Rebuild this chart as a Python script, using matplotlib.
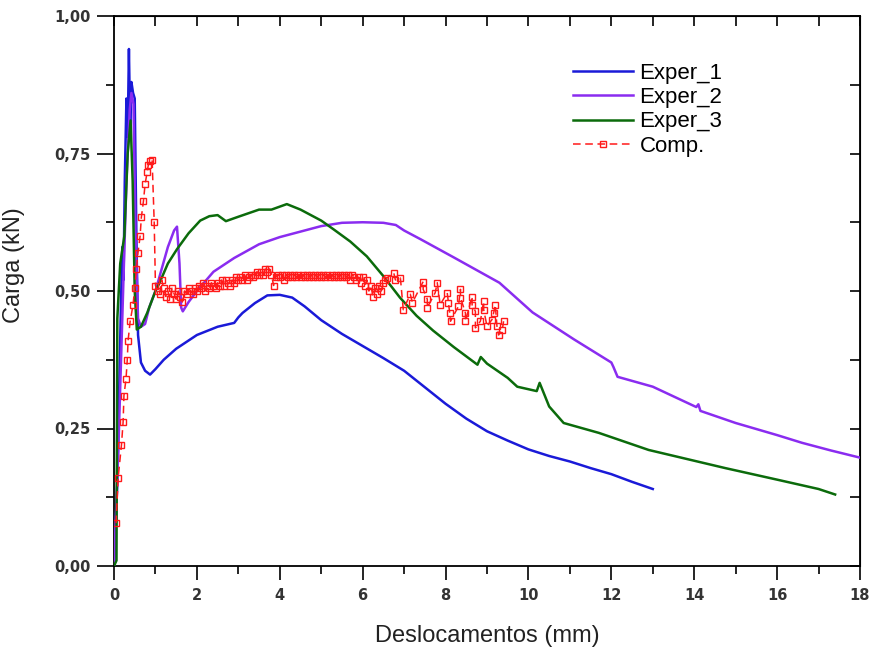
import matplotlib
matplotlib.use("Agg")
import matplotlib.pyplot as plt
from matplotlib.ticker import MultipleLocator, FuncFormatter

# ---------------- data ----------------
exp1_x = [0.0, 0.08, 0.12, 0.16, 0.20, 0.23, 0.26, 0.30, 0.33, 0.36, 0.39, 0.42, 0.46, 0.50,
          0.54, 0.58, 0.65, 0.75, 0.87, 1.0, 1.2, 1.5, 2.0, 2.5, 2.9, 3.0, 3.1, 3.4, 3.7, 4.0,
          4.3, 4.6, 5.0, 5.5, 6.0, 6.5, 7.0, 7.5, 8.0, 8.5, 9.0, 9.5, 10.0, 10.5, 11.0, 11.5,
          12.0, 12.5, 13.0]
exp1_y = [0.0, 0.15, 0.30, 0.45, 0.58, 0.52, 0.70, 0.85, 0.78, 0.94, 0.80, 0.88, 0.86, 0.85,
          0.60, 0.42, 0.37, 0.355, 0.348, 0.358, 0.375, 0.395, 0.42, 0.435, 0.442, 0.452, 0.46,
          0.478, 0.492, 0.493, 0.488, 0.472, 0.447, 0.422, 0.400, 0.378, 0.355, 0.325, 0.295,
          0.268, 0.245, 0.228, 0.212, 0.200, 0.190, 0.178, 0.167, 0.153, 0.140]

exp2_x = [0.0, 0.10, 0.20, 0.30, 0.38, 0.42, 0.47, 0.52, 0.58, 0.65, 0.75, 0.85, 1.0, 1.15,
          1.30, 1.45, 1.52, 1.58, 1.62, 1.66, 1.8, 2.0, 2.4, 2.9, 3.5, 4.0, 4.5, 5.0, 5.5, 6.0,
          6.5, 6.8, 7.0, 7.4, 8.2, 9.3, 10.1, 11.1, 12.0, 12.05, 12.15, 13.0, 14.05, 14.1,
          14.15, 15.0, 16.0, 16.6, 17.3, 18.0]
exp2_y = [0.0, 0.20, 0.45, 0.70, 0.83, 0.86, 0.84, 0.60, 0.45, 0.435, 0.44, 0.47, 0.50, 0.54,
          0.58, 0.61, 0.617, 0.55, 0.47, 0.463, 0.48, 0.50, 0.535, 0.56, 0.585, 0.598, 0.608,
          0.618, 0.624, 0.625, 0.624, 0.620, 0.610, 0.594, 0.561, 0.515, 0.461, 0.412, 0.370,
          0.362, 0.344, 0.326, 0.289, 0.294, 0.282, 0.260, 0.238, 0.224, 0.210, 0.197]

exp3_x = [0.0, 0.06, 0.08, 0.15, 0.25, 0.33, 0.40, 0.45, 0.50, 0.55, 0.65, 0.8, 1.0, 1.1,
          1.3, 1.52, 1.8, 2.08, 2.3, 2.5, 2.7, 3.0, 3.5, 3.8, 4.17, 4.5, 5.0, 5.3, 5.7, 6.1,
          6.5, 6.9, 7.3, 7.7, 8.2, 8.77, 8.85, 9.0, 9.5, 9.73, 10.2, 10.27, 10.5, 10.85, 11.7,
          12.9, 14.75, 16.0, 17.0, 17.4]
exp3_y = [0.0, 0.01, 0.45, 0.55, 0.60, 0.75, 0.81, 0.70, 0.50, 0.43, 0.435, 0.46, 0.50,
          0.515, 0.55, 0.576, 0.605, 0.628, 0.636, 0.638, 0.627, 0.635, 0.648, 0.648, 0.658,
          0.648, 0.628, 0.612, 0.590, 0.563, 0.527, 0.488, 0.455, 0.428, 0.398, 0.366, 0.380,
          0.368, 0.342, 0.326, 0.318, 0.333, 0.290, 0.260, 0.242, 0.211, 0.178, 0.157, 0.140,
          0.130]

# Comp.: initial rise, plateau, and scattered tail
comp_rise_x = [0.05, 0.10, 0.18, 0.22, 0.24, 0.29, 0.32, 0.34, 0.39, 0.46, 0.50, 0.54, 0.58,
               0.63, 0.66, 0.71, 0.75, 0.80, 0.83, 0.87, 0.92, 0.97]
comp_rise_y = [0.078, 0.16, 0.22, 0.262, 0.31, 0.34, 0.375, 0.41, 0.445, 0.475, 0.506, 0.54,
               0.57, 0.60, 0.634, 0.663, 0.694, 0.716, 0.73, 0.736, 0.738, 0.625]
comp_plat_x = [1.00, 1.05, 1.10, 1.15, 1.20, 1.25, 1.30, 1.35, 1.40, 1.45, 1.50, 1.55, 1.60,
               1.65, 1.70, 1.75, 1.80, 1.85, 1.90, 1.95, 2.00, 2.05, 2.10, 2.15, 2.20, 2.25,
               2.30, 2.35, 2.40, 2.45, 2.50, 2.55, 2.60, 2.65, 2.70, 2.75, 2.80, 2.85, 2.90,
               2.95, 3.00, 3.05, 3.10, 3.15, 3.20, 3.25, 3.30, 3.35, 3.40, 3.45, 3.50, 3.55,
               3.60, 3.65, 3.70, 3.75, 3.80, 3.85, 3.90, 3.95, 4.00, 4.05, 4.10, 4.15, 4.20,
               4.25, 4.30, 4.35, 4.40, 4.45, 4.50, 4.55, 4.60, 4.65, 4.70, 4.75, 4.80, 4.85,
               4.90, 4.95, 5.00, 5.05, 5.10, 5.15, 5.20, 5.25, 5.30, 5.35, 5.40, 5.45, 5.50,
               5.55, 5.60, 5.65, 5.70, 5.75, 5.80, 5.85, 5.90, 5.95, 6.00, 6.05, 6.10, 6.15,
               6.20, 6.25, 6.30, 6.35, 6.40, 6.45, 6.50, 6.55]
comp_plat_y = [0.51, 0.50, 0.495, 0.52, 0.505, 0.49, 0.50, 0.485, 0.505, 0.495, 0.485, 0.50,
               0.49, 0.48, 0.50, 0.495, 0.505, 0.50, 0.495, 0.505, 0.50, 0.51, 0.505, 0.515,
               0.50, 0.51, 0.505, 0.515, 0.51, 0.505, 0.515, 0.51, 0.52, 0.51, 0.52, 0.515,
               0.51, 0.52, 0.515, 0.525, 0.52, 0.525, 0.52, 0.53, 0.52, 0.525, 0.53, 0.525,
               0.53, 0.535, 0.53, 0.535, 0.53, 0.54, 0.535, 0.54, 0.53, 0.51, 0.525, 0.53,
               0.525, 0.53, 0.52, 0.53, 0.525, 0.53, 0.525, 0.53, 0.525, 0.53, 0.525, 0.53,
               0.525, 0.53, 0.525, 0.53, 0.525, 0.53, 0.525, 0.53, 0.525, 0.53, 0.525, 0.53,
               0.525, 0.53, 0.525, 0.53, 0.525, 0.53, 0.525, 0.53, 0.525, 0.53, 0.52, 0.53,
               0.525, 0.52, 0.525, 0.515, 0.525, 0.51, 0.52, 0.50, 0.51, 0.49, 0.505, 0.495,
               0.51, 0.50, 0.515, 0.52]
comp_tail_x = [6.59, 6.75, 6.79, 6.91, 6.98, 7.15, 7.2, 7.46, 7.46, 7.56, 7.56, 7.75, 7.8,
               7.87, 8.04, 8.07, 8.1, 8.12, 8.31, 8.36, 8.36, 8.48, 8.48, 8.64, 8.64, 8.72,
               8.72, 8.84, 8.92, 8.92, 9.0, 9.12, 9.16, 9.2, 9.24, 9.28, 9.37, 9.4]
comp_tail_y = [0.524, 0.533, 0.52, 0.524, 0.466, 0.494, 0.479, 0.517, 0.503, 0.485, 0.47,
               0.497, 0.515, 0.475, 0.497, 0.479, 0.46, 0.445, 0.472, 0.503, 0.488, 0.46,
               0.445, 0.49, 0.475, 0.463, 0.433, 0.445, 0.481, 0.466, 0.436, 0.448, 0.46,
               0.475, 0.436, 0.42, 0.43, 0.445]
comp_x = comp_rise_x + comp_plat_x + comp_tail_x
comp_y = comp_rise_y + comp_plat_y + comp_tail_y

labels = ["Exper_1", "Exper_2", "Exper_3", "Comp."]
colors = ["#1a1ad8", "#8a2cf0", "#0b6b0b", "#ff1a1a"]
x_ticks = [0, 2, 4, 6, 8, 10, 12, 14, 16, 18]
y_ticks = [0.0, 0.25, 0.5, 0.75, 1.0]

# ---------------- figure ----------------
plt.rcParams["font.family"] = ["DejaVu Sans"]
fig = plt.figure(figsize=(8.73, 6.55), dpi=100)
ax = fig.add_axes([114 / 873, (655 - 566) / 655, 746 / 873, 550 / 655])

ax.plot(exp1_x, exp1_y, color=colors[0], lw=1.8, label=labels[0], zorder=3)
ax.plot(exp2_x, exp2_y, color=colors[1], lw=1.8, label=labels[1], zorder=3)
ax.plot(exp3_x, exp3_y, color=colors[2], lw=1.8, label=labels[2], zorder=3)
ax.plot(comp_x, comp_y, color=colors[3], lw=1.1, ls=(0, (5, 3)), marker="s",
        markersize=5, markerfacecolor="none", markeredgecolor=colors[3],
        markeredgewidth=1.0, label=labels[3], zorder=4)

ax.set_xlim(0, 18)
ax.set_ylim(0, 1.0)
ax.set_xticks(x_ticks)
ax.set_yticks(y_ticks)
ax.xaxis.set_minor_locator(MultipleLocator(1))
ax.yaxis.set_minor_locator(MultipleLocator(0.125))
ax.yaxis.set_major_formatter(FuncFormatter(lambda v, p: f"{v:.2f}".replace(".", ",")))
ax.xaxis.set_major_formatter(FuncFormatter(lambda v, p: f"{v:.0f}"))

for s in ax.spines.values():
    s.set_linewidth(1.3)

ax.tick_params(axis="both", which="major", direction="out", length=10, width=1.2,
               labelsize=10.5, labelcolor="#333333")
ax.tick_params(axis="both", which="minor", direction="out", length=6, width=1.2)
ax.tick_params(axis="y", which="major", length=12, pad=5)
ax.tick_params(axis="x", which="major", pad=6)
for lab in ax.get_xticklabels() + ax.get_yticklabels():
    lab.set_fontweight("bold")

# mirrored inward ticks on top and right
top = ax.secondary_xaxis("top")
top.set_xticks(x_ticks)
top.xaxis.set_minor_locator(MultipleLocator(1))
top.tick_params(which="both", direction="in", length=7, width=1.2, labeltop=False)
right = ax.secondary_yaxis("right")
right.set_yticks(y_ticks)
right.yaxis.set_minor_locator(MultipleLocator(0.125))
right.tick_params(which="both", direction="in", length=7, width=1.2, labelright=False)

ax.set_xlabel("Deslocamentos (mm)", fontsize=17, family="Liberation Sans", color="#222222")
ax.set_ylabel("Carga (kN)", fontsize=17, family="Liberation Sans", color="#222222")
ax.xaxis.set_label_coords(0.5, -0.108)
ax.yaxis.set_label_coords(-0.119, 0.547)

leg = ax.legend(loc="upper left", bbox_to_anchor=(0.615, 0.915), frameon=False,
                prop={"family": "Liberation Sans", "size": 16}, handlelength=2.7,
                handletextpad=0.3, labelspacing=0.15, borderpad=0, borderaxespad=0,
                numpoints=1)

fig.savefig("out.png", dpi=100)
